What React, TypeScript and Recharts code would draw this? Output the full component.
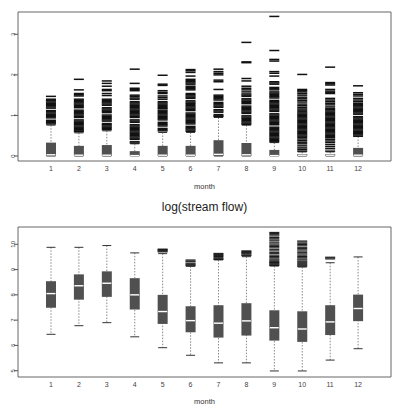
import { ComposedChart, Bar, Scatter, XAxis, YAxis, ReferenceArea } from 'recharts';

const months = [1, 2, 3, 4, 5, 6, 7, 8, 9, 10, 11, 12];

// top panel: stream flow
const flowQ1 = [0, 0, 0, 0, 0, 0, 0, 0, 0, 0, 0, 0];
const flowMed = [0.03, 0.02, 0.02, 0.01, 0.02, 0.02, 0.04, 0.03, 0.01, 0.02, 0.02, 0.02];
const flowQ3 = [0.33, 0.25, 0.27, 0.12, 0.25, 0.25, 0.39, 0.32, 0.15, 0.05, 0.05, 0.2];
const flowLo = [0, 0, 0, 0, 0, 0, 0, 0, 0, 0, 0, 0];
const flowHi = [0.76, 0.57, 0.62, 0.3, 0.58, 0.58, 0.95, 0.76, 0.33, 0.1, 0.1, 0.48];
const flowOut = [
  [1.47, 1.4, 1.38, 1.36, 1.33, 1.3, 1.27, 1.24, 1.21, 1.18, 1.12, 1.09, 1.06, 1.03, 1.0, 0.97, 0.94, 0.88, 0.85, 0.82, 0.79],
  [1.89, 1.63, 1.54, 1.51, 1.48, 1.4, 1.37, 1.34, 1.31, 1.28, 1.25, 1.22, 1.19, 1.13, 1.1, 1.07, 1.04, 1.01, 0.98, 0.95, 0.89, 0.86, 0.83, 0.8, 0.77, 0.74, 0.71, 0.68, 0.65, 0.62, 0.6],
  [1.85, 1.79, 1.72, 1.64, 1.61, 1.54, 1.49, 1.4, 1.37, 1.34, 1.31, 1.28, 1.25, 1.19, 1.16, 1.13, 1.1, 1.07, 1.01, 0.98, 0.95, 0.92, 0.89, 0.86, 0.8, 0.77, 0.74, 0.71, 0.68, 0.65],
  [2.14, 1.79, 1.67, 1.64, 1.61, 1.5, 1.47, 1.43, 1.4, 1.34, 1.31, 1.28, 1.25, 1.22, 1.19, 1.16, 1.13, 1.1, 1.07, 1.04, 1.01, 0.98, 0.95, 0.89, 0.86, 0.83, 0.77, 0.74, 0.71, 0.68, 0.65, 0.62, 0.59, 0.56, 0.53, 0.5, 0.47, 0.44, 0.41, 0.35, 0.32],
  [1.99, 1.77, 1.74, 1.61, 1.57, 1.54, 1.48, 1.44, 1.4, 1.34, 1.31, 1.28, 1.25, 1.22, 1.19, 1.17, 1.13, 1.1, 1.07, 1.04, 1.01, 0.98, 0.95, 0.92, 0.89, 0.83, 0.8, 0.77, 0.74, 0.68, 0.65, 0.62],
  [2.13, 2.1, 2.06, 1.97, 1.89, 1.86, 1.83, 1.8, 1.77, 1.72, 1.69, 1.66, 1.63, 1.54, 1.51, 1.48, 1.45, 1.42, 1.36, 1.33, 1.3, 1.27, 1.24, 1.21, 1.18, 1.15, 1.12, 1.06, 1.03, 1.0, 0.97, 0.94, 0.91, 0.88, 0.85, 0.82, 0.79, 0.73, 0.7, 0.67, 0.64, 0.61],
  [2.14, 2.08, 2.04, 2.0, 1.87, 1.83, 1.64, 1.5, 1.47, 1.44, 1.41, 1.38, 1.32, 1.29, 1.26, 1.23, 1.2, 1.14, 1.11, 1.08, 1.02, 0.99, 0.97],
  [2.8, 2.32, 2.3, 1.91, 1.85, 1.72, 1.67, 1.63, 1.58, 1.53, 1.5, 1.47, 1.41, 1.38, 1.35, 1.32, 1.29, 1.23, 1.2, 1.17, 1.14, 1.11, 1.08, 1.05, 0.99, 0.96, 0.93, 0.9, 0.87, 0.84, 0.81, 0.78],
  [3.44, 2.6, 2.38, 2.34, 2.08, 2.04, 1.97, 1.83, 1.8, 1.77, 1.69, 1.66, 1.63, 1.58, 1.55, 1.52, 1.49, 1.46, 1.43, 1.37, 1.34, 1.31, 1.28, 1.25, 1.22, 1.19, 1.16, 1.13, 1.1, 1.04, 1.01, 0.98, 0.95, 0.92, 0.89, 0.86, 0.83, 0.8, 0.77, 0.71, 0.68, 0.65, 0.62, 0.59, 0.56, 0.53, 0.5, 0.47, 0.44, 0.41, 0.38, 0.35],
  [2.01, 1.64, 1.61, 1.58, 1.54, 1.5, 1.45, 1.41, 1.37, 1.33, 1.28, 1.24, 1.2, 1.16, 1.13, 1.09, 1.06, 1.03, 1.0, 0.97, 0.94, 0.91, 0.88, 0.85, 0.82, 0.79, 0.76, 0.73, 0.7, 0.67, 0.64, 0.61, 0.58, 0.55, 0.52, 0.49, 0.46, 0.42, 0.38, 0.34, 0.3, 0.25, 0.2, 0.16, 0.12],
  [2.19, 1.81, 1.78, 1.75, 1.64, 1.6, 1.57, 1.54, 1.42, 1.38, 1.34, 1.3, 1.26, 1.21, 1.17, 1.14, 1.11, 1.08, 1.05, 1.02, 0.99, 0.96, 0.93, 0.9, 0.87, 0.84, 0.81, 0.78, 0.75, 0.72, 0.69, 0.66, 0.63, 0.6, 0.57, 0.54, 0.51, 0.48, 0.45, 0.41, 0.37, 0.33, 0.28, 0.23, 0.18, 0.12],
  [1.73, 1.56, 1.52, 1.48, 1.42, 1.38, 1.34, 1.3, 1.27, 1.24, 1.21, 1.18, 1.15, 1.12, 1.09, 1.06, 1.03, 0.97, 0.94, 0.91, 0.88, 0.85, 0.82, 0.79, 0.76, 0.73, 0.7, 0.67, 0.64, 0.61, 0.58, 0.55, 0.52, 0.49],
];

// bottom panel: log(stream flow)
const logQ1 = [7.49, 7.81, 7.92, 7.42, 6.85, 6.52, 6.31, 6.39, 6.19, 6.14, 6.41, 6.96];
const logMed = [8.05, 8.36, 8.46, 8.0, 7.34, 6.98, 6.88, 6.97, 6.7, 6.65, 6.93, 7.46];
const logQ3 = [8.54, 8.81, 8.93, 8.66, 8.0, 7.55, 7.59, 7.67, 7.39, 7.35, 7.59, 8.01];
const logLo = [6.44, 6.78, 6.9, 6.34, 5.91, 5.61, 5.31, 5.31, 4.99, 4.99, 5.42, 5.87];
const logHi = [9.88, 9.88, 9.95, 9.66, 9.63, 9.13, 9.38, 9.51, 9.14, 9.1, 9.27, 9.5];
const logOut = [
  [],
  [],
  [],
  [],
  [9.7, 9.73, 9.76, 9.79, 9.81],
  [9.38, 9.34, 9.31, 9.25, 9.21, 9.18, 9.15],
  [9.64, 9.6, 9.56, 9.52, 9.47, 9.43, 9.4],
  [9.74, 9.71, 9.68, 9.65, 9.62, 9.58, 9.55],
  [10.47, 10.43, 10.38, 10.33, 10.27, 10.22, 10.17, 10.13, 10.06, 10.01, 9.96, 9.91, 9.86, 9.8, 9.74, 9.68, 9.63, 9.57, 9.52, 9.47, 9.42, 9.38, 9.34, 9.31, 9.28, 9.25, 9.22, 9.19, 9.16],
  [10.13, 10.09, 10.04, 9.99, 9.94, 9.88, 9.83, 9.78, 9.73, 9.67, 9.62, 9.57, 9.52, 9.47, 9.42, 9.38, 9.33, 9.29, 9.25, 9.21, 9.17, 9.13],
  [9.49, 9.46, 9.42],
  [],
];

const flowTicks = [0, 1, 2, 3];
const logTicks = [5, 6, 7, 8, 9, 10];

const FONT = '"Liberation Sans", Arial, sans-serif';
const TEXT = '#444';
const BOX_FILL = '#505050';

const buildRows = (q1: number[], med: number[], q3: number[], lo: number[], hi: number[]) =>
  months.map((m, i) => ({ m, box: [q1[i], q3[i]], whisk: [lo[i], hi[i]], med: med[i] }));

const buildOutliers = (out: number[][]) =>
  out.flatMap((vals, i) => vals.map((v) => ({ m: months[i], v })));

const Whisker = (props: any) => {
  const { x, y, width, height } = props;
  const cx = x + width / 2;
  const sx = x + 0.5;
  const ex = x + width - 0.5;
  return (
    <g>
      <line x1={cx} x2={cx} y1={y} y2={y + height} stroke="#888" strokeDasharray="1.5 1.5" />
      <line x1={sx} x2={ex} y1={y} y2={y} stroke="#333" />
      <line x1={sx} x2={ex} y1={y + height} y2={y + height} stroke="#333" />
    </g>
  );
};

const Median = (props: any) => {
  const { cx, cy } = props;
  return <line x1={cx - 4.5} x2={cx + 4.5} y1={cy} y2={cy} stroke="#fff" strokeWidth={1.4} />;
};

const makeDash = (w: number, color: string) => (props: any) => {
  const { cx, cy } = props;
  return <line x1={cx - 5} x2={cx + 5} y1={cy} y2={cy} stroke={color} strokeWidth={w} />;
};

const YTick = (props: any) => {
  const { x, y, payload } = props;
  return (
    <text
      x={x + 3}
      y={y}
      transform={`rotate(-90 ${x + 3} ${y})`}
      textAnchor="middle"
      fontSize={6}
      fontFamily={FONT}
      fill={TEXT}
    >
      {payload.value}
    </text>
  );
};

const XTick = (props: any) => {
  const { x, y, payload } = props;
  return (
    <text x={x} y={y} dy={9.5} textAnchor="middle" fontSize={7} fontFamily={FONT} fill={TEXT}>
      {payload.value}
    </text>
  );
};

interface PanelProps {
  rows: any[];
  outliers: { m: number; v: number }[];
  yDomain: [number, number];
  yTicks: number[];
  height: number;
  top: number;
  labelOffset: number;
  dash: (p: any) => any;
}

const X_DOMAIN: [number, number] = [-0.18, 13.18];

const BoxPanel = ({ rows, outliers, yDomain, yTicks, height, top, labelOffset, dash }: PanelProps) => (
  <ComposedChart
    width={395}
    height={height}
    data={rows}
    margin={{ top, right: 4, bottom: 0, left: 0 }}
    barGap={-10}
  >
    <XAxis
      dataKey="m"
      type="number"
      domain={X_DOMAIN}
      allowDataOverflow
      ticks={months}
      interval={0}
      height={34}
      tickSize={0}
      tickMargin={0}
      axisLine={false}
      tickLine={false}
      tick={<XTick />}
      label={{ value: 'month', position: 'insideBottom', offset: labelOffset, fontSize: 7.5, fill: '#333', fontFamily: FONT }}
    />
    <YAxis
      type="number"
      domain={yDomain}
      allowDataOverflow
      ticks={yTicks}
      interval={0}
      width={18}
      tickSize={4}
      tickMargin={2}
      axisLine={false}
      tickLine={{ stroke: '#555' }}
      tick={<YTick />}
    />
    <ReferenceArea
      x1={X_DOMAIN[0]}
      x2={X_DOMAIN[1]}
      y1={yDomain[0]}
      y2={yDomain[1]}
      fill="none"
      stroke="#666"
      strokeWidth={1}
      ifOverflow="visible"
    />
    <Bar dataKey="whisk" barSize={10} shape={<Whisker />} isAnimationActive={false} />
    <Bar dataKey="box" barSize={10} fill={BOX_FILL} isAnimationActive={false} />
    <Scatter data={rows} dataKey="med" shape={<Median />} isAnimationActive={false} />
    <Scatter data={outliers} dataKey="v" shape={dash} isAnimationActive={false} />
  </ComposedChart>
);

export default function App() {
  const flowRows = buildRows(flowQ1, flowMed, flowQ3, flowLo, flowHi);
  const logRows = buildRows(logQ1, logMed, logQ3, logLo, logHi);
  return (
    <div style={{ position: 'absolute', left: 0, top: 0, width: 395, height: 411, background: '#fff', fontFamily: FONT }}>
      <div style={{ position: 'absolute', left: 0, top: 0 }}>
        <BoxPanel
          rows={flowRows}
          outliers={buildOutliers(flowOut)}
          yDomain={[-0.123, 3.549]}
          yTicks={flowTicks}
          height={195}
          top={12}
          labelOffset={6}
          dash={makeDash(1.5, '#111')}
        />
      </div>
      <div
        style={{
          position: 'absolute',
          left: 18,
          width: 373,
          top: 200,
          textAlign: 'center',
          fontSize: 12,
          color: '#222',
          lineHeight: '14px',
        }}
      >
        log(stream flow)
      </div>
      <div style={{ position: 'absolute', left: 0, top: 195 }}>
        <BoxPanel
          rows={logRows}
          outliers={buildOutliers(logOut)}
          yDomain={[4.751, 10.684]}
          yTicks={logTicks}
          height={216}
          top={32}
          labelOffset={7}
          dash={makeDash(1.1, '#1a1a1a')}
        />
      </div>
    </div>
  );
}
